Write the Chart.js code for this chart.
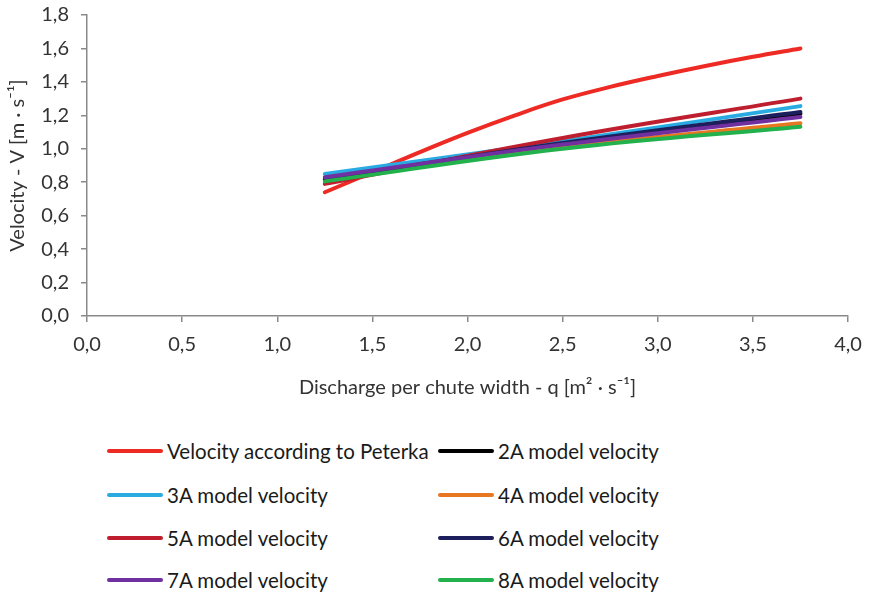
<!DOCTYPE html>
<html>
<head>
<meta charset="utf-8">
<script src="https://cdn.jsdelivr.net/npm/chart.js@4"></script>
<style>
  body { margin: 0; background: #fff; font-family: Lato, "Open Sans", sans-serif; }
  #wrap { position: relative; width: 869px; height: 596px; }
  #chartBox { position: absolute; left: 0; top: 0; width: 869px; height: 410px; }
  .leg { position: absolute; display: flex; align-items: center; font-size: 20.5px; color: #1a1a1a; white-space: nowrap; }
  .leg span.ln { display: inline-block; width: 56px; height: 4px; border-radius: 2px; margin-right: 4px; }
</style>
</head>
<body>
<div id="wrap">
  <div id="chartBox"><canvas id="c"></canvas></div>
  <div id="legend"></div>
</div>
<script>
// ── Data ────────────────────────────────────────────────────
const qPeterka = [1.25, 1.5, 1.75, 2.0, 2.25, 2.5, 2.75, 3.0, 3.25, 3.5, 3.75];
const vPeterka = [0.74, 0.86, 0.98, 1.095, 1.20, 1.295, 1.37, 1.435, 1.495, 1.55, 1.60];

const qModel = [1.25, 2.5, 3.75];
const v2A = [0.815, 1.03, 1.21];
const v3A = [0.85, 1.045, 1.255];
const v4A = [0.81, 1.01, 1.152];
const v5A = [0.79, 1.065, 1.30];
const v6A = [0.82, 1.035, 1.22];
const v7A = [0.83, 1.025, 1.19];
const v8A = [0.805, 1.0, 1.132];

const seriesNames = ['Velocity according to Peterka', '2A model velocity', '3A model velocity',
  '4A model velocity', '5A model velocity', '6A model velocity', '7A model velocity', '8A model velocity'];
const seriesColors = ['#ee2a24', '#000000', '#29abe2', '#e87722', '#be1e2d', '#1c1f5c', '#7030a0', '#22b14c'];

const toPts = (xs, ys) => xs.map((x, i) => ({ x, y: ys[i] }));
const seriesData = [
  toPts(qPeterka, vPeterka),
  toPts(qModel, v2A), toPts(qModel, v3A), toPts(qModel, v4A),
  toPts(qModel, v5A), toPts(qModel, v6A), toPts(qModel, v7A), toPts(qModel, v8A)
];

const comma = v => Number(v).toFixed(1).replace('.', ',');
const axisGrey = '#8a8a8a';
const textGrey = '#333333';
const axisFont = { family: 'Lato', size: 20 };

// ── Chart ───────────────────────────────────────────────────
new Chart(document.getElementById('c'), {
  type: 'line',
  data: {
    datasets: seriesData.map((d, i) => ({
      label: seriesNames[i],
      data: d,
      borderColor: seriesColors[i],
      backgroundColor: seriesColors[i],
      borderWidth: 4,
      pointRadius: 0,
      fill: false,
      borderCapStyle: 'round',
      tension: 0.4,
      order: seriesData.length - i
    }))
  },
  options: {
    responsive: true,
    maintainAspectRatio: false,
    animation: false,
    layout: { padding: { top: 15, right: 21, left: 0, bottom: 0 } },
    plugins: { legend: { display: false }, tooltip: { enabled: false } },
    scales: {
      x: {
        type: 'linear',
        min: 0, max: 4,
        ticks: { stepSize: 0.5, callback: comma, color: textGrey, font: axisFont, padding: 11 },
        grid: { drawOnChartArea: false, drawTicks: true, tickLength: 6, color: axisGrey, lineWidth: 1.5 },
        border: { color: axisGrey, width: 1.5 },
        title: { display: true, text: 'Discharge per chute width - q [m² · s⁻¹]', color: textGrey,
                 font: axisFont, padding: { top: 0, bottom: 10 } },
        afterFit: s => { s.height = 94; s.paddingLeft = 0; s.paddingRight = 0; }
      },
      y: {
        min: 0, max: 1.8,
        ticks: { stepSize: 0.2, callback: comma, color: textGrey, font: axisFont, padding: 12 },
        grid: { drawOnChartArea: false, drawTicks: true, tickLength: 6, color: axisGrey, lineWidth: 1.5 },
        border: { color: axisGrey, width: 1.5 },
        title: { display: true, text: 'Velocity - V [m · s⁻¹]', color: textGrey,
                 font: axisFont, padding: { top: 6, bottom: 0 } },
        afterFit: s => { s.width = 87; s.paddingTop = 0; s.paddingBottom = 0; }
      }
    }
  }
});

// ── Legend (two columns, as in the original) ────────────────
const legend = document.getElementById('legend');
const colX = [107, 438];
const rowY = [451, 495, 538, 580];
seriesNames.forEach((name, i) => {
  const el = document.createElement('div');
  el.className = 'leg';
  el.style.left = colX[i % 2] + 'px';
  el.style.top = (rowY[Math.floor(i / 2)] - 13) + 'px';
  el.style.height = '26px';
  el.innerHTML = `<span class="ln" style="background:${seriesColors[i]}"></span>${name}`;
  legend.appendChild(el);
});
</script>
</body>
</html>
